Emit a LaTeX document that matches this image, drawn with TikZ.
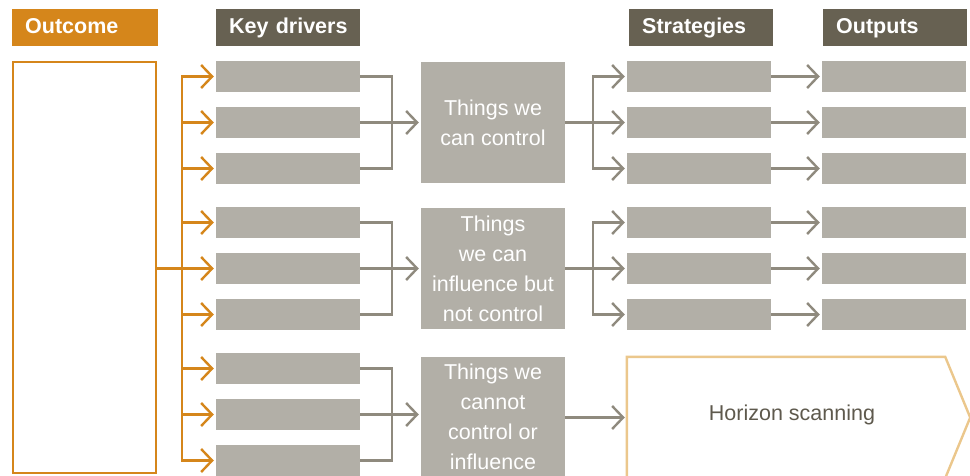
\documentclass[tikz,border=0pt]{standalone}
\usepackage{fontspec}
\setmainfont{Liberation Sans}
\usepackage{tikz}
\usetikzlibrary{calc,arrows.meta}
\definecolor{orangec}{HTML}{D5861B}
\definecolor{headc}{HTML}{676152}
\definecolor{boxc}{HTML}{B2AFA7}
\definecolor{linec}{HTML}{8F8A7E}
\definecolor{scanc}{HTML}{EBC78C}
\definecolor{textc}{HTML}{5E594D}
\tikzset{
  hdr/.style={fill=#1,text=white,font=\bfseries\fontsize{21.5}{26}\selectfont,anchor=north west,
    minimum height=37pt,inner xsep=13pt,inner ysep=0pt,text height=16pt,text depth=5pt,text width=118pt,align=left},
  bar/.style={fill=boxc,minimum width=144pt,minimum height=31pt,inner sep=0pt},
  zone/.style={fill=boxc,minimum width=144pt,minimum height=121pt,inner sep=0pt,text=white,align=center,
    font=\fontsize{21.5}{30}\selectfont},
  ol/.style={line width=2.4pt,orangec},
  gl/.style={line width=2.4pt,linec},
  oar/.style={ol,-{Straight Barb[length=11pt,width=23pt]},shorten >=2pt},
  gar/.style={gl,-{Straight Barb[length=11pt,width=23pt]},shorten >=2pt}
}

\begin{document}
\begin{tikzpicture}[x=1pt,y=-1pt]
\useasboundingbox (0,0) rectangle (970,475);
% column heads
\node[hdr=orangec,text width=120pt] (hout) at (12,9) {Outcome};
\node[hdr=headc] (hkey) at (216,9) {\mbox{Key drivers}};
\node[hdr=headc] (hstr) at (629,9) {Strategies};
\node[hdr=headc] (hres) at (823,9) {Outputs};
\node[draw=orangec,line width=2.2pt,minimum width=143pt,minimum height=411pt,inner sep=0pt] (oc) at (84.5,267.5) {};
% drivers, strategies, outputs
\foreach \g in {0,1,2}
  \foreach \r in {0,1,2}
    \node[bar] (d\g\r) at (288,{76.5+146*\g+46*\r}) {};
\foreach \g in {0,1}
  \foreach \r in {0,1,2} {
    \node[bar] (s\g\r) at (699,{76.5+146*\g+46*\r}) {};
    \node[bar] (o\g\r) at (894,{76.5+146*\g+46*\r}) {};
    \draw[gar] (s\g\r.east) -- (o\g\r.west);
  }
\node[zone] (z0) at (493,122.5) {Things we\\can control};
\node[zone] (z1) at (493,268.5) {Things\\we can\\influence but\\not control};
\node[zone] (z2) at (493,417) {Things we\\cannot\\control or\\influence};
\node[minimum width=318pt,minimum height=121pt,inner sep=0pt,
  label={[text=textc,font=\fontsize{21.5}{26}\selectfont,xshift=6pt,yshift=3pt]center:Horizon scanning}] (hs) at (786,417.5) {};
\draw[scanc,line width=2.4pt] (hs.north west) -- (hs.north east) -- ($(hs.east)+(25,0)$) -- (hs.south east) -- (hs.south west) -- cycle;
% connectors
\coordinate (tr) at (182,0);
\coordinate (bl) at (392,0);
\coordinate (br) at (593,0);
\draw[ol,line cap=rect] (tr |- d00) -- (tr |- d22);
\draw[ol] (oc.east |- d11) -- (tr |- d11);
\foreach \g in {0,1,2} {
  \foreach \r in {0,1,2}
    \draw[oar] (tr |- d\g\r) -- (d\g\r.west);
  \draw[gl] (d\g0.east) -| (bl |- d\g1.east) |- (d\g2.east);
  \draw[gar] (d\g1.east) -- (z\g.west |- d\g1.east);
}
\foreach \g in {0,1} {
  \draw[gl] (z\g.east) -- (br |- z\g.east);
  \draw[gl,line cap=rect] (br |- s\g0) -- (br |- s\g2);
  \foreach \r in {0,1,2}
    \draw[gar] (br |- s\g\r) -- (s\g\r.west);
}
\draw[gar] (z2.east |- hs.west) -- (hs.west);
\end{tikzpicture}
\end{document}
